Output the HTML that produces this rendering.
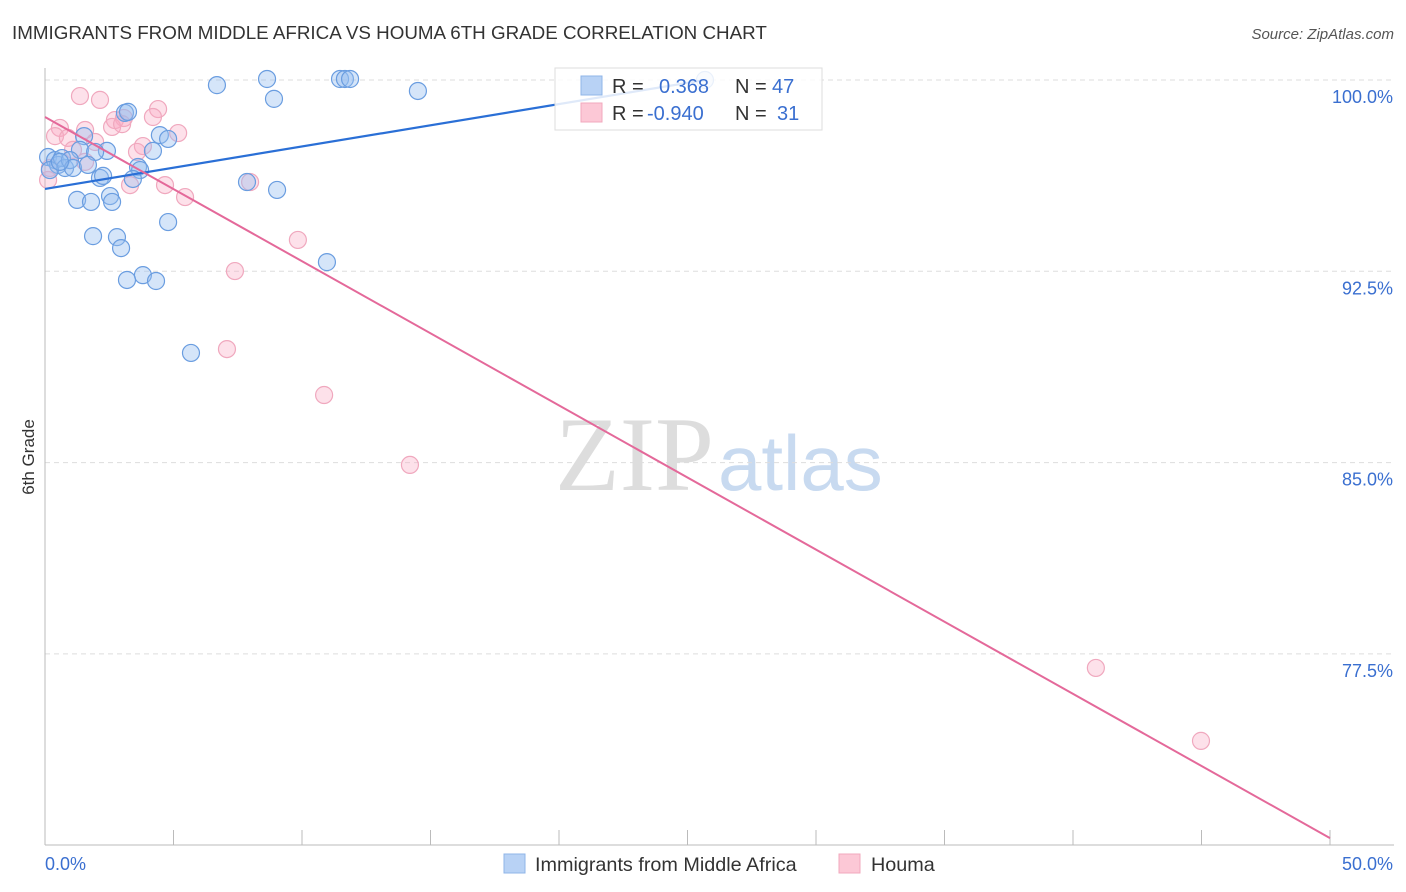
<!DOCTYPE html>
<html><head><meta charset="utf-8"><style>
body{margin:0;background:#fff;font-family:"Liberation Sans",sans-serif}
</style></head><body>
<svg id="c" width="1406" height="892" style="display:block">
<text x="12" y="39" font-size="18.8" fill="#333">IMMIGRANTS FROM MIDDLE AFRICA VS HOUMA 6TH GRADE CORRELATION CHART</text>
<text x="1394" y="39" font-size="15" fill="#555" font-style="italic" text-anchor="end">Source: ZipAtlas.com</text>
<text x="34" y="457" font-size="17" fill="#333" text-anchor="middle" transform="rotate(-90 34 457)">6th Grade</text>
<text x="555" y="490" font-size="106" fill="#ddd" font-family="Liberation Serif">ZIP</text>
<text x="718" y="490" font-size="78" fill="#c8daf0">atlas</text>
<g id="grid"></g><g id="pts"></g><g id="lines"></g>
<g>
<rect x="555" y="68" width="267" height="62" fill="rgba(255,255,255,0.85)" stroke="#ddd"/>
<rect x="581" y="76" width="21" height="19" fill="#b8d2f5" stroke="#8fb5e8"/>
<rect x="581" y="103" width="21" height="19" fill="#fcc8d6" stroke="#f2a8bd"/>
<text x="612" y="93" font-size="20" fill="#333">R = <tspan fill="#3a6fd0" x="659">0.368</tspan><tspan fill="#333" x="735">N = </tspan><tspan fill="#3a6fd0" x="772">47</tspan></text>
<text x="612" y="120" font-size="20" fill="#333">R = <tspan fill="#3a6fd0" x="647">-0.940</tspan><tspan fill="#333" x="735">N = </tspan><tspan fill="#3a6fd0" x="777">31</tspan></text>
</g>
<g>
<rect x="504" y="854" width="21" height="19" fill="#b8d2f5" stroke="#8fb5e8"/>
<text x="535" y="871" font-size="19.8" fill="#333">Immigrants from Middle Africa</text>
<rect x="839" y="854" width="21" height="19" fill="#fcc8d6" stroke="#f2a8bd"/>
<text x="871" y="871" font-size="19.8" fill="#333">Houma</text>
</g>
</svg>
<script>
const blueX=[6.69,8.64,8.91,11.48,11.67,11.87,14.51,25.68,3.11,3.23,4.47,4.79,4.20,2.41,1.52,1.36,1.95,0.12,0.39,0.51,0.66,0.78,0.97,1.09,0.19,1.67,2.14,2.26,3.62,3.70,3.42,2.53,2.61,1.25,1.79,7.86,9.03,4.79,1.87,2.80,2.96,3.81,3.19,4.32,10.97,5.68,0.58];
const blueY=[99.80,100.04,99.26,100.04,100.04,100.04,99.57,100,98.71,98.75,97.84,97.69,97.22,97.22,97.80,97.26,97.18,96.98,96.86,96.67,96.94,96.55,96.86,96.55,96.47,96.67,96.16,96.24,96.59,96.47,96.12,95.45,95.22,95.30,95.22,96.00,95.69,94.43,93.88,93.84,93.41,92.35,92.16,92.12,92.86,89.30,96.79];
const pinkX=[1.36,2.14,4.40,3.07,2.72,2.61,3.00,4.20,0.58,0.39,0.89,1.56,1.95,5.18,3.81,3.58,1.09,1.56,0.12,0.19,3.31,4.67,5.45,7.98,9.84,7.39,7.08,10.86,14.20,40.89,44.98];
const pinkY=[99.37,99.22,98.86,98.51,98.43,98.16,98.27,98.55,98.12,97.80,97.73,98.04,97.57,97.92,97.41,97.18,97.26,96.79,96.08,96.55,95.88,95.88,95.41,96.00,93.73,92.51,89.45,87.65,84.91,76.95,74.09];
const blueLine=[[0,95.73],[25.68,100]];
const pinkLine=[[0,98.55],[50,70.28]];
const yTicks=[100,92.5,85,77.5];
const yTickLabels=["100.0%","92.5%","85.0%","77.5%"];
const xTicks=[0,5,10,15,20,25,30,35,40,45,50];
const X=v=>45+v*25.7, Y=v=>80+(100-v)*25.507;
const NS="http://www.w3.org/2000/svg";
function mk(t,a,p){const e=document.createElementNS(NS,t);for(const k in a)e.setAttribute(k,a[k]);p.appendChild(e);return e;}
const g=document.getElementById('grid');
yTicks.forEach((t,i)=>{
 const l=mk('line',{x1:45,x2:1394,y1:Y(t),y2:Y(t),stroke:'#ddd','stroke-dasharray':'5,4'},g);
 
 
 const tx=mk('text',{x:1393,y:Y(t)+23,'font-size':18,fill:'#3a6fd0','text-anchor':'end'},g);
 tx.textContent=yTickLabels[i];
 
 
});
const ax=mk('line',{x1:45,x2:1394,y1:845,y2:845,stroke:'#bbb'},g);


const ay=mk('line',{x1:45,x2:45,y1:68,y2:845,stroke:'#bbb'},g);


xTicks.forEach(t=>{
 const l=mk('line',{x1:X(t),x2:X(t),y1:830,y2:845,stroke:'#bbb'},g);
 
 
});
const x0=mk('text',{x:45,y:870,'font-size':18,fill:'#3a6fd0'},g);x0.textContent='0.0%';


const x1=mk('text',{x:1393,y:870,'font-size':18,fill:'#3a6fd0','text-anchor':'end'},g);x1.textContent='50.0%';


const p=document.getElementById('pts');
pinkX.forEach((x,i)=>{
 const c=mk('circle',{cx:X(x),cy:Y(pinkY[i]),r:8.5,fill:'rgba(248,170,195,0.35)',stroke:'#f0a8be','stroke-width':1.2},p);
 
 
});
blueX.forEach((x,i)=>{
 const c=mk('circle',{cx:X(x),cy:Y(blueY[i]),r:8.5,fill:'rgba(150,190,240,0.4)',stroke:'#6a9de0','stroke-width':1.2},p);
 
 
});
const L=document.getElementById('lines');
const bl=mk('line',{x1:X(blueLine[0][0]),y1:Y(blueLine[0][1]),x2:X(blueLine[1][0]),y2:Y(blueLine[1][1]),stroke:'#2a6fd6','stroke-width':2.2},L);


const pl=mk('line',{x1:X(pinkLine[0][0]),y1:Y(pinkLine[0][1]),x2:X(pinkLine[1][0]),y2:Y(pinkLine[1][1]),stroke:'#e4699a','stroke-width':2},L);


</script>
</body></html>
